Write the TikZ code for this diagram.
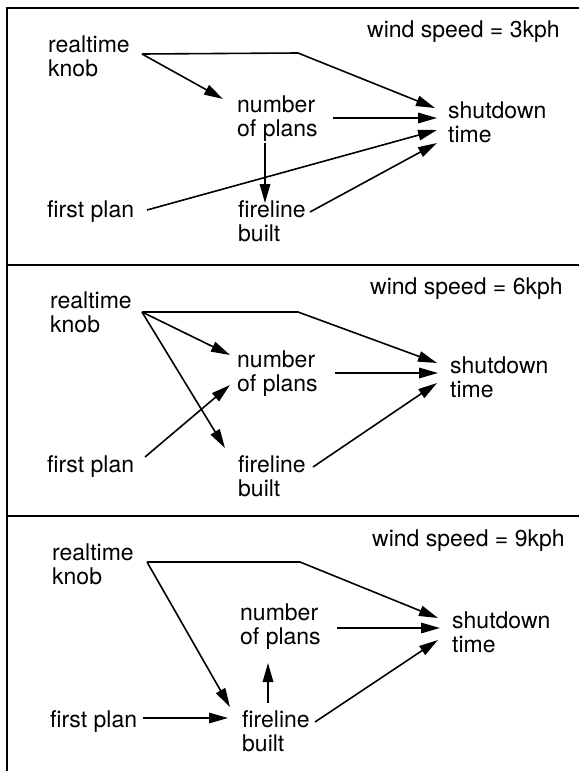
\documentclass[tikz,border=0pt]{standalone}
\usepackage{fontspec}
\setmainfont{TeX Gyre Heros}
\usetikzlibrary{arrows.meta}
\tikzset{
  lab/.style={anchor=base west, inner sep=0pt, align=left, font=\fontsize{23}{24}\selectfont},
  conn/.style={line width=1.6pt, line join=miter, -{Triangle[length=19pt,width=10.5pt]}},
  frame/.style={line width=1.5pt}
}
\begin{document}
\begin{tikzpicture}[x=1pt,y=-1pt]
\useasboundingbox (0,0) rectangle (579,771);
% frame
\coordinate (tr) at (579,8);
\coordinate (tl) at (7,8);
\coordinate (bl) at (7,771);
\coordinate (d1l) at (7,265);
\coordinate (d1r) at (579,265);
\coordinate (d2l) at (7,516);
\coordinate (d2r) at (579,516);
\draw[frame] (tr) -- (tl) -- (bl);
\draw[frame] (d1l) -- (d1r);
\draw[frame] (d2l) -- (d2r);

% ---------- panel 1 ----------
% (multi-line nodes are placed at the baseline of their last line)
\begin{scope}[shift={(0,8)}]
\node[lab] (rk1) at (48,68) {realtime\\knob};
\node[lab] (np1) at (237,128) {number\\of plans};
\node[lab] (st1) at (448,134) {shutdown\\time};
\node[lab] (fp1) at (47,209) {first plan};
\node[lab] (fb1) at (238,233) {fireline\\built};
\node[lab] (ws1) at (367,29) {wind speed = 3kph};
\coordinate (rk1o) at (142,46);
\coordinate (rk1c) at (298,45);
\coordinate (st1a) at (435,100);
\coordinate (np1i) at (223,91);
\coordinate (np1o) at (333,110);
\coordinate (st1b) at (437,110);
\coordinate (np1d) at (265,135);
\coordinate (fb1i) at (265,195);
\coordinate (fp1o) at (147,202);
\coordinate (st1c) at (437,122);
\coordinate (fb1o) at (310,204);
\coordinate (st1d) at (437,135);
\draw[conn] (rk1o) -- (rk1c) -- (st1a);
\draw[conn] (rk1o) -- (np1i);
\draw[conn] (np1o) -- (st1b);
\draw[conn] (np1d) -- (fb1i);
\draw[conn] (fp1o) -- (st1c);
\draw[conn] (fb1o) -- (st1d);
\end{scope}

% ---------- panel 2 ----------
\begin{scope}[shift={(0,265)}]
\node[lab] (rk2) at (50,67) {realtime\\knob};
\node[lab] (np2) at (237,126) {number\\of plans};
\node[lab] (st2) at (450,132) {shutdown\\time};
\node[lab] (fp2) at (47,207) {first plan};
\node[lab] (fb2) at (238,231) {fireline\\built};
\node[lab] (ws2) at (370,29) {wind speed = 6kph};
\coordinate (rk2o) at (142,47);
\coordinate (rk2c) at (298,47);
\coordinate (st2a) at (437,98);
\coordinate (np2i) at (230,90);
\coordinate (fb2i) at (225,183);
\coordinate (fp2o) at (145,192);
\coordinate (np2j) at (230,120);
\coordinate (np2o) at (335,108);
\coordinate (st2b) at (438,108);
\coordinate (fb2o) at (313,202);
\coordinate (st2c) at (437,118);
\draw[conn] (rk2o) -- (rk2c) -- (st2a);
\draw[conn] (rk2o) -- (np2i);
\draw[conn] (rk2o) -- (fb2i);
\draw[conn] (fp2o) -- (np2j);
\draw[conn] (np2o) -- (st2b);
\draw[conn] (fb2o) -- (st2c);
\end{scope}

% ---------- panel 3 ----------
\begin{scope}[shift={(0,516)}]
\node[lab] (rk3) at (52,68) {realtime\\knob};
\node[lab] (np3) at (240,128) {number\\of plans};
\node[lab] (st3) at (452,136) {shutdown\\time};
\node[lab] (fp3) at (50,211) {first plan};
\node[lab] (fb3) at (242,235) {fireline\\built};
\node[lab] (ws3) at (372,30) {wind speed = 9kph};
\coordinate (rk3o) at (147,46);
\coordinate (rk3c) at (300,46);
\coordinate (st3a) at (438,102);
\coordinate (fb3i) at (230,191);
\coordinate (fp3o) at (143,202);
\coordinate (fb3j) at (228,202);
\coordinate (fb3u) at (268,187);
\coordinate (np3i) at (268,147);
\coordinate (np3o) at (337,112);
\coordinate (st3b) at (440,112);
\coordinate (fb3o) at (315,206);
\coordinate (st3c) at (438,124);
\draw[conn] (rk3o) -- (rk3c) -- (st3a);
\draw[conn] (rk3o) -- (fb3i);
\draw[conn] (fp3o) -- (fb3j);
\draw[conn] (fb3u) -- (np3i);
\draw[conn] (np3o) -- (st3b);
\draw[conn] (fb3o) -- (st3c);
\end{scope}
\end{tikzpicture}
\end{document}
